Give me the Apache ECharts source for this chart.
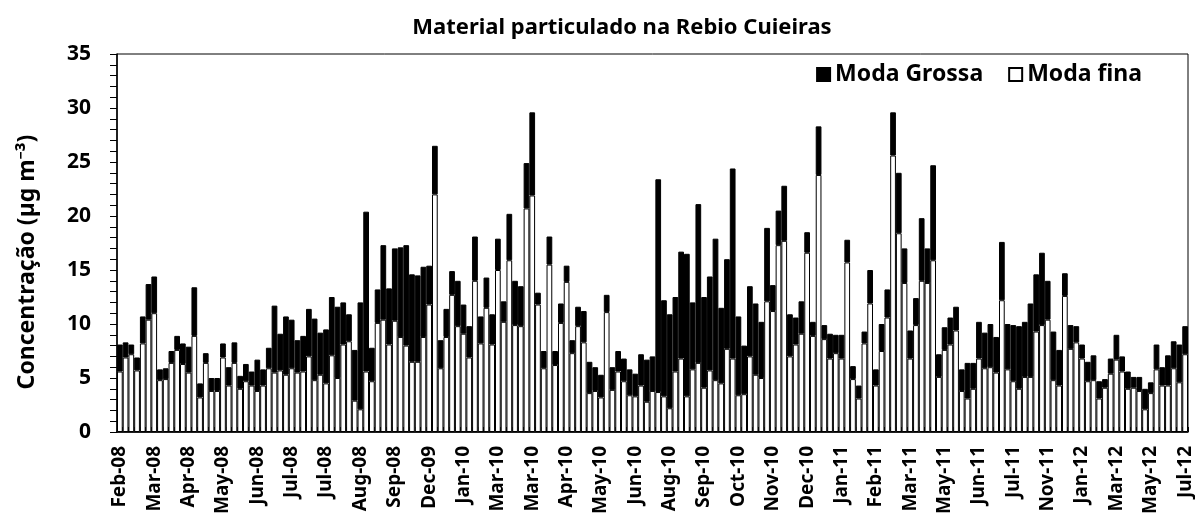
<!DOCTYPE html>
<html>
<head>
<meta charset="utf-8">
<script src="https://cdn.jsdelivr.net/npm/echarts@6/dist/echarts.min.js"></script>
<style>
  html, body { margin: 0; padding: 0; background: #fff; }
  #main { width: 1195px; height: 518px; }
</style>
</head>
<body>
<div id="main"></div>
<script>
// rótulos do eixo x (um a cada 6 amostras)
const tickLabels = ['Feb-08', 'Mar-08', 'Apr-08', 'May-08', 'Jun-08', 'Jul-08', 'Jul-08', 'Aug-08',
  'Sep-08', 'Dec-09', 'Jan-10', 'Mar-10', 'Mar-10', 'Apr-10', 'May-10', 'Jun-10', 'Aug-10',
  'Sep-10', 'Oct-10', 'Nov-10', 'Dec-10', 'Jan-11', 'Feb-11', 'Mar-11', 'May-11', 'Jun-11',
  'Jul-11', 'Nov-11', 'Jan-12', 'Mar-12', 'May-12', 'Jul-12']

// Moda fina (parte branca, base da pilha)
const modaFina = [
  5.6, 6.9, 7.2, 5.7, 8.2, 10.4, 11.0, 4.8, 4.9, 6.4, 7.6, 6.3, 5.5, 8.9, 3.2, 6.4, 3.8, 3.8, 6.9, 4.3,
  6.4, 4.0, 4.7, 4.3, 3.8, 4.3, 5.9, 5.5, 5.7, 5.3, 5.9, 5.5, 5.6, 7.0, 4.8, 5.3, 4.5, 7.1, 5.0, 8.1,
  8.4, 2.9, 2.1, 5.6, 4.7, 10.1, 10.4, 8.1, 10.3, 8.8, 8.0, 6.5, 6.5, 8.8, 11.8, 22.0, 5.9, 8.8, 12.7, 9.8,
  9.1, 6.9, 14.0, 8.2, 11.5, 8.1, 15.0, 10.2, 15.9, 9.9, 9.8, 20.7, 21.9, 11.8, 5.9, 15.5, 6.2, 10.1, 13.9, 7.3,
  9.8, 8.3, 3.6, 3.8, 3.2, 11.1, 3.9, 5.6, 4.7, 3.4, 3.3, 4.3, 2.8, 3.8, 3.7, 3.3, 2.2, 5.6, 6.8, 3.3,
  5.8, 6.4, 4.1, 5.7, 4.8, 4.5, 7.7, 6.8, 3.4, 3.5, 7.0, 5.3, 5.0, 12.1, 11.2, 17.3, 17.7, 7.0, 8.1, 9.1,
  16.6, 8.9, 23.8, 8.6, 6.8, 7.3, 6.8, 15.7, 4.9, 3.1, 8.2, 11.9, 4.3, 7.5, 10.6, 25.6, 18.4, 13.8, 6.8, 9.9,
  14.0, 13.8, 15.9, 5.1, 7.6, 8.1, 9.4, 3.8, 3.1, 4.0, 6.8, 5.9, 6.0, 5.5, 12.2, 5.8, 4.7, 4.0, 5.1, 5.1,
  9.3, 9.9, 10.4, 4.8, 4.3, 12.6, 7.7, 8.3, 6.8, 4.7, 4.8, 3.1, 4.1, 5.4, 6.7, 5.6, 4.0, 4.1, 3.8, 2.1,
  3.6, 5.8, 4.3, 4.3, 5.9, 4.6, 7.2
]

// Moda Grossa (parte preta, topo da pilha)
const modaGrossa = [
  2.5, 1.4, 0.9, 1.2, 2.5, 3.3, 3.4, 1.0, 1.0, 1.1, 1.3, 1.9, 2.4, 4.5, 1.3, 0.9, 1.2, 1.2, 1.3, 1.7,
  1.9, 1.2, 1.6, 1.3, 2.9, 1.5, 1.9, 6.2, 3.4, 5.4, 4.5, 3.0, 3.3, 4.4, 5.7, 3.9, 5.0, 5.4, 6.6, 3.9,
  2.5, 4.7, 9.9, 14.8, 3.1, 3.1, 6.9, 5.2, 6.7, 8.3, 9.3, 8.1, 8.0, 6.5, 3.6, 4.5, 2.6, 2.6, 2.2, 4.2,
  2.7, 2.9, 4.1, 2.5, 2.8, 2.8, 2.9, 1.9, 4.3, 4.1, 3.7, 4.2, 7.7, 1.1, 1.6, 2.6, 1.3, 1.8, 1.5, 1.2,
  1.8, 2.9, 2.9, 2.2, 2.1, 1.6, 2.1, 1.9, 2.1, 2.4, 2.1, 2.9, 3.9, 3.2, 19.7, 8.9, 8.7, 6.9, 9.9, 13.2,
  6.2, 14.7, 8.4, 8.7, 13.1, 7.0, 8.3, 17.6, 7.3, 4.5, 6.5, 6.6, 5.2, 6.8, 2.4, 3.2, 5.1, 3.9, 2.5, 3.0,
  1.9, 1.3, 4.5, 1.3, 2.3, 1.7, 2.2, 2.1, 1.2, 1.2, 1.1, 3.1, 1.5, 2.5, 2.6, 4.0, 5.6, 3.2, 2.6, 2.5,
  5.8, 3.2, 8.8, 2.1, 2.1, 2.5, 2.2, 2.0, 3.3, 2.4, 3.4, 3.3, 4.0, 3.3, 5.4, 4.2, 5.2, 5.8, 5.1, 6.8,
  5.3, 6.7, 3.6, 4.5, 3.3, 2.1, 2.2, 1.5, 1.3, 1.8, 2.3, 1.6, 0.8, 1.4, 2.3, 1.4, 1.6, 1.0, 1.3, 1.9,
  1.0, 2.3, 1.7, 2.8, 2.5, 3.5, 2.6
]

const yTicks = { min: 0, max: 35, interval: 5 }

const categories = []
for (let i = 0; i < modaFina.length; i++) categories.push(String(i + 1))

const FONT = 'Noto Sans'

const chart = echarts.init(document.getElementById('main'))

const option = {
  animation: false,
  title: {
    text: 'Material particulado na Rebio Cuieiras',
    left: 617,
    top: 12,
    textAlign: 'center',
    textStyle: { fontFamily: FONT, fontWeight: 'bold', fontSize: 22, color: '#000' }
  },
  // nome do eixo y posicionado à mão (igual ao original)
  graphic: [
    {
      type: 'text',
      x: 27,
      y: 262,
      rotation: Math.PI / 2,
      style: {
        text: 'Concentração (µg m⁻³)',
        fontFamily: FONT,
        fontWeight: 'bold',
        fontSize: 23,
        fill: '#000',
        align: 'center',
        verticalAlign: 'middle'
      }
    }
  ],
  legend: {
    data: ['Moda Grossa', 'Moda fina'],
    right: 48,
    top: 58,
    itemWidth: 13,
    itemHeight: 13,
    itemGap: 25,
    icon: 'rect',
    textStyle: { fontFamily: FONT, fontWeight: 'bold', fontSize: 23, color: '#000' }
  },
  grid: {
    left: 117,
    right: 7,
    top: 54,
    bottom: 86,
    show: true,
    borderColor: '#000',
    borderWidth: 1
  },
  xAxis: {
    type: 'category',
    data: categories,
    boundaryGap: true,
    axisLine: { lineStyle: { color: '#000', width: 1.5 } },
    axisTick: { show: true, inside: true, length: 5, interval: 0, lineStyle: { color: '#000' } },
    axisLabel: {
      interval: 5,
      rotate: 90,
      margin: 14,
      fontFamily: FONT,
      fontWeight: 'bold',
      fontSize: 19,
      color: '#000',
      formatter: (v, i) => tickLabels[i / 6]
    }
  },
  yAxis: {
    type: 'value',
    min: yTicks.min,
    max: yTicks.max,
    interval: yTicks.interval,
    axisLine: { show: true, lineStyle: { color: '#000', width: 1.5 } },
    axisTick: { show: true, length: 7, lineStyle: { color: '#000' } },
    minorTick: { show: true, splitNumber: 5, length: 7, lineStyle: { color: '#000' } },
    splitLine: { show: false },
    axisLabel: { fontFamily: FONT, fontWeight: 'bold', fontSize: 21, color: '#000', margin: 26 }
  },
  series: [
    {
      name: 'Moda fina',
      type: 'bar',
      stack: 'total',
      barCategoryGap: '0%',
      data: modaFina,
      itemStyle: { color: '#fff', borderColor: '#000', borderWidth: 1 }
    },
    {
      name: 'Moda Grossa',
      type: 'bar',
      stack: 'total',
      barCategoryGap: '0%',
      data: modaGrossa,
      itemStyle: { color: '#000', borderColor: '#000', borderWidth: 1 }
    }
  ]
}

chart.setOption(option)
</script>
</body>
</html>
